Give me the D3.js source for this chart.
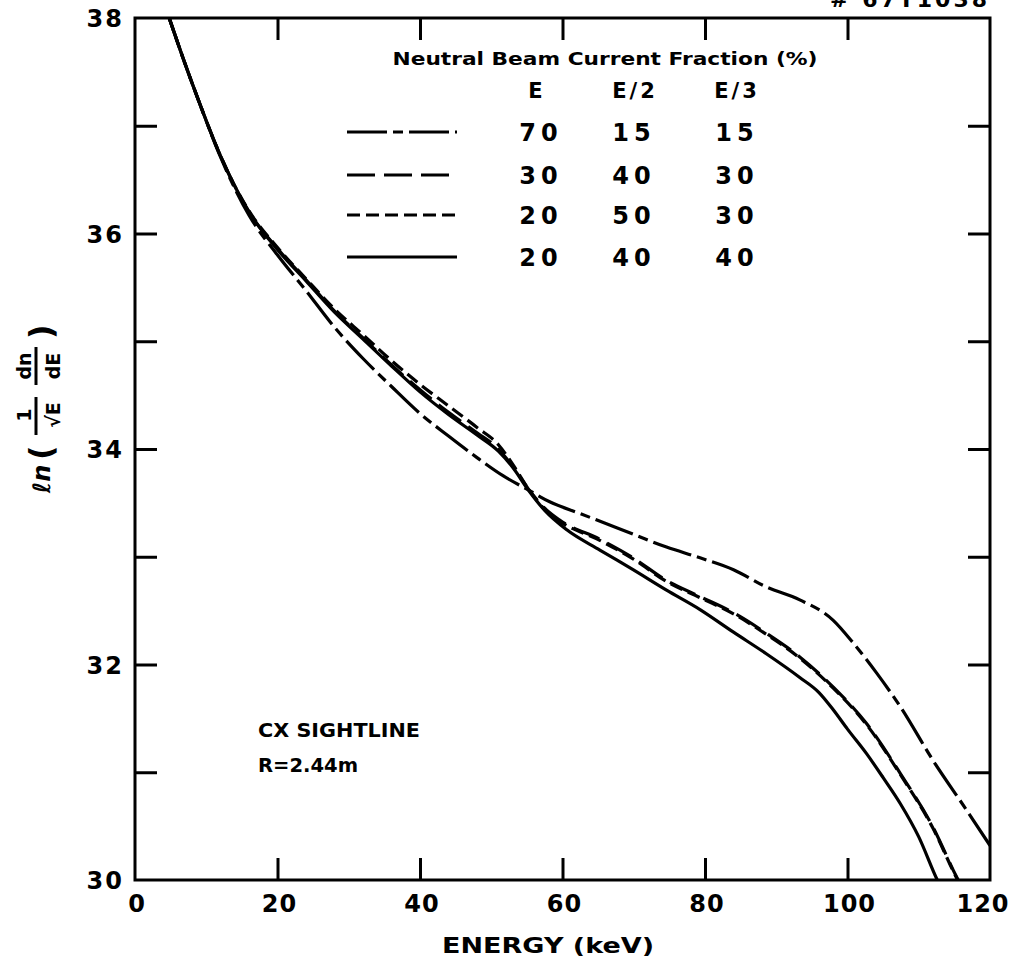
<!DOCTYPE html>
<html>
<head>
<meta charset="utf-8">
<script src="https://cdn.jsdelivr.net/npm/d3@7"></script>
<style>
  body { margin: 0; background: #fff; }
  svg text { font-family: "DejaVu Sans", "Liberation Sans", sans-serif; font-weight: bold; fill: #000; }
</style>
</head>
<body>
<svg id="canvas" width="1015" height="964"></svg>
<script>
// energy (keV) and ln(1/sqrt(E) dn/dE)
const energyFull = [4.8, 7, 9, 12, 16, 20, 24, 28, 32, 36, 40, 44, 48, 51.7, 55.2, 58.2, 62.5, 67.6, 74.6, 79.3, 84, 88.6, 93.3, 98, 100.8, 104.1, 107.4, 112, 116.7, 120];
const valFull = [38.0, 37.58, 37.22, 36.71, 36.17, 35.8, 35.47, 35.13, 34.84, 34.58, 34.33, 34.12, 33.92, 33.75, 33.62, 33.51, 33.4, 33.27, 33.09, 32.99, 32.88, 32.72, 32.6, 32.41, 32.2, 31.92, 31.61, 31.11, 30.65, 30.32];

const energyMid = [4.8, 7, 9, 12, 16, 20, 24, 28, 32, 36, 40, 44, 48, 51, 53, 55.2, 57.5, 59.6, 65.3, 69.9, 74.6, 79.3, 84, 88.6, 93.3, 98, 102.7, 107.4, 112, 115.3, 116.5];
const valMid = [38.0, 37.58, 37.22, 36.72, 36.2, 35.86, 35.57, 35.28, 35.03, 34.78, 34.55, 34.34, 34.15, 34.0, 33.84, 33.63, 33.45, 33.34, 33.16, 32.99, 32.78, 32.63, 32.48, 32.29, 32.07, 31.79, 31.45, 30.99, 30.49, 30.03, 29.88];

const energyShort = [4.8, 7, 9, 12, 16, 20, 24, 28, 32, 36, 40, 44, 48, 51, 53, 55.2, 57.5, 59.6, 65.3, 69.9, 74.6, 79.3, 84, 88.6, 93.3, 98, 102.7, 107.4, 112, 115.3, 116.5];
const valShort = [38.0, 37.58, 37.22, 36.72, 36.21, 35.87, 35.58, 35.3, 35.06, 34.82, 34.6, 34.4, 34.2, 34.04, 33.86, 33.63, 33.44, 33.33, 33.15, 32.98, 32.77, 32.62, 32.47, 32.28, 32.06, 31.78, 31.44, 30.98, 30.48, 30.02, 29.87];

const energySolid = [4.8, 7, 9, 12, 16, 20, 24, 28, 32, 36, 40, 44, 48, 51, 53, 55.2, 57.5, 60.6, 65.3, 69.9, 74.6, 79.3, 84, 88.6, 93.3, 96, 98, 100, 102.7, 105, 107.4, 110, 112.6, 113.5];
const valSolid = [38.0, 37.58, 37.22, 36.72, 36.2, 35.85, 35.56, 35.27, 35.02, 34.77, 34.53, 34.32, 34.13, 33.98, 33.83, 33.62, 33.43, 33.25, 33.06, 32.88, 32.69, 32.51, 32.3, 32.1, 31.88, 31.74, 31.58, 31.4, 31.17, 30.95, 30.71, 30.4, 30.0, 29.88];

const legendE = ["70", "30", "20", "20"];
const legendE2 = ["15", "40", "50", "40"];
const legendE3 = ["15", "30", "30", "40"];

const xTickLabels = [0, 20, 40, 60, 80, 100, 120];
const yTickLabels = [30, 32, 34, 36, 38];

const series = [
  { e: energyFull, v: valFull, dash: "40,6,10,6" },
  { e: energyMid, v: valMid, dash: "28,9" },
  { e: energyShort, v: valShort, dash: "13,6" },
  { e: energySolid, v: valSolid, dash: null }
];

const svg = d3.select("#canvas");
const pLeft = 135, pRight = 990, pTop = 18, pBottom = 880;

const x = d3.scaleLinear().domain([0, 120]).range([pLeft, pRight]);
const y = d3.scaleLinear().domain([30, 38]).range([pBottom, pTop]);

svg.append("defs").append("clipPath").attr("id", "plotclip")
  .append("rect").attr("x", pLeft).attr("y", pTop).attr("width", pRight - pLeft).attr("height", pBottom - pTop);

// inward ticks
const tickLen = 22;
const xAxisBottom = d3.axisTop(x).tickValues([20, 40, 60, 80, 100]).tickSize(tickLen).tickFormat("").tickSizeOuter(0);
const xAxisTop = d3.axisBottom(x).tickValues([20, 40, 60, 80, 100]).tickSize(tickLen).tickFormat("").tickSizeOuter(0);
const yAxisLeft = d3.axisRight(y).tickValues([31, 32, 33, 34, 35, 36, 37]).tickSize(tickLen).tickFormat("").tickSizeOuter(0);
const yAxisRight = d3.axisLeft(y).tickValues([31, 32, 33, 34, 35, 36, 37]).tickSize(tickLen).tickFormat("").tickSizeOuter(0);

[[xAxisBottom, `translate(0,${pBottom})`], [xAxisTop, `translate(0,${pTop})`],
 [yAxisLeft, `translate(${pLeft},0)`], [yAxisRight, `translate(${pRight},0)`]].forEach(([ax, t]) => {
  const g = svg.append("g").attr("transform", t).call(ax);
  g.select(".domain").remove();
  g.selectAll("line").attr("stroke", "#000").attr("stroke-width", 3);
});

svg.append("rect").attr("x", pLeft).attr("y", pTop).attr("width", pRight - pLeft).attr("height", pBottom - pTop)
  .attr("fill", "none").attr("stroke", "#000").attr("stroke-width", 3);

// tick labels (last one pulled in so it stays on the page)
svg.append("g").selectAll("text").data(xTickLabels).enter().append("text")
  .attr("x", d => Math.min(x(d) + 2, 983)).attr("y", 912).attr("text-anchor", "middle")
  .attr("font-size", 24).attr("letter-spacing", 1).text(d => d);

svg.append("g").selectAll("text").data(yTickLabels).enter().append("text")
  .attr("x", 124).attr("y", d => y(d) + 9).attr("text-anchor", "end")
  .attr("font-size", 24).attr("letter-spacing", 2).text(d => d);

svg.append("text").attr("x", 548).attr("y", 953).attr("text-anchor", "middle")
  .attr("font-size", 21).attr("textLength", 212).attr("lengthAdjust", "spacingAndGlyphs")
  .text("ENERGY (keV)");

// y axis title, rotated
const yt = svg.append("g").attr("transform", "translate(50,493) rotate(-90)");
yt.append("text").attr("x", 0).attr("y", 0).attr("font-size", 24).attr("font-style", "italic").text("ℓn");
yt.append("text").attr("x", 33).attr("y", 2).attr("font-size", 32).attr("font-weight", "normal").text("(");
yt.append("line").attr("x1", 58).attr("x2", 96).attr("y1", -14).attr("y2", -14).attr("stroke", "#000").attr("stroke-width", 3);
yt.append("text").attr("x", 78).attr("y", -19).attr("text-anchor", "middle").attr("font-size", 19).text("1");
yt.append("text").attr("x", 78).attr("y", 10).attr("text-anchor", "middle").attr("font-size", 19).text("√E");
yt.append("line").attr("x1", 108).attr("x2", 146).attr("y1", -14).attr("y2", -14).attr("stroke", "#000").attr("stroke-width", 3);
yt.append("text").attr("x", 127).attr("y", -19).attr("text-anchor", "middle").attr("font-size", 19).text("dn");
yt.append("text").attr("x", 127).attr("y", 10).attr("text-anchor", "middle").attr("font-size", 19).text("dE");
yt.append("text").attr("x", 154).attr("y", 2).attr("font-size", 32).attr("font-weight", "normal").text(")");

// curves
const line = d3.line().x(d => x(d[0])).y(d => y(d[1])).curve(d3.curveMonotoneX);
const curves = svg.append("g").attr("clip-path", "url(#plotclip)");
series.forEach(s => {
  curves.append("path")
    .datum(s.e.map((e, i) => [e, s.v[i]]))
    .attr("d", line)
    .attr("fill", "none").attr("stroke", "#000").attr("stroke-width", 3.2)
    .attr("stroke-dasharray", s.dash);
});

// legend
const legendRows = [132, 175, 215, 257];
svg.append("text").attr("x", 605).attr("y", 65).attr("text-anchor", "middle")
  .attr("font-size", 18).attr("textLength", 425).attr("lengthAdjust", "spacingAndGlyphs")
  .text("Neutral Beam Current Fraction (%)");
[["E", 537], ["E/2", 635], ["E/3", 737]].forEach(([t, cx]) => {
  svg.append("text").attr("x", cx).attr("y", 98).attr("text-anchor", "middle")
    .attr("font-size", 21).attr("letter-spacing", 3).text(t);
});
series.forEach((s, i) => {
  svg.append("line").attr("x1", 347).attr("x2", 457)
    .attr("y1", legendRows[i]).attr("y2", legendRows[i])
    .attr("stroke", "#000").attr("stroke-width", 3.2).attr("stroke-dasharray", s.dash);
  [[legendE[i], 541], [legendE2[i], 634], [legendE3[i], 737]].forEach(([t, cx]) => {
    svg.append("text").attr("x", cx).attr("y", legendRows[i] + 9).attr("text-anchor", "middle")
      .attr("font-size", 24).attr("letter-spacing", 5).text(t);
  });
});

// annotations
svg.append("text").attr("x", 258).attr("y", 737).attr("font-size", 20)
  .attr("textLength", 162).attr("lengthAdjust", "spacingAndGlyphs").text("CX SIGHTLINE");
svg.append("text").attr("x", 258).attr("y", 772).attr("font-size", 20)
  .attr("textLength", 100).attr("lengthAdjust", "spacingAndGlyphs").text("R=2.44m");
svg.append("text").attr("x", 990).attr("y", 7).attr("text-anchor", "end").attr("font-size", 22)
  .attr("letter-spacing", 3).text("# 67T1038");
</script>
</body>
</html>
